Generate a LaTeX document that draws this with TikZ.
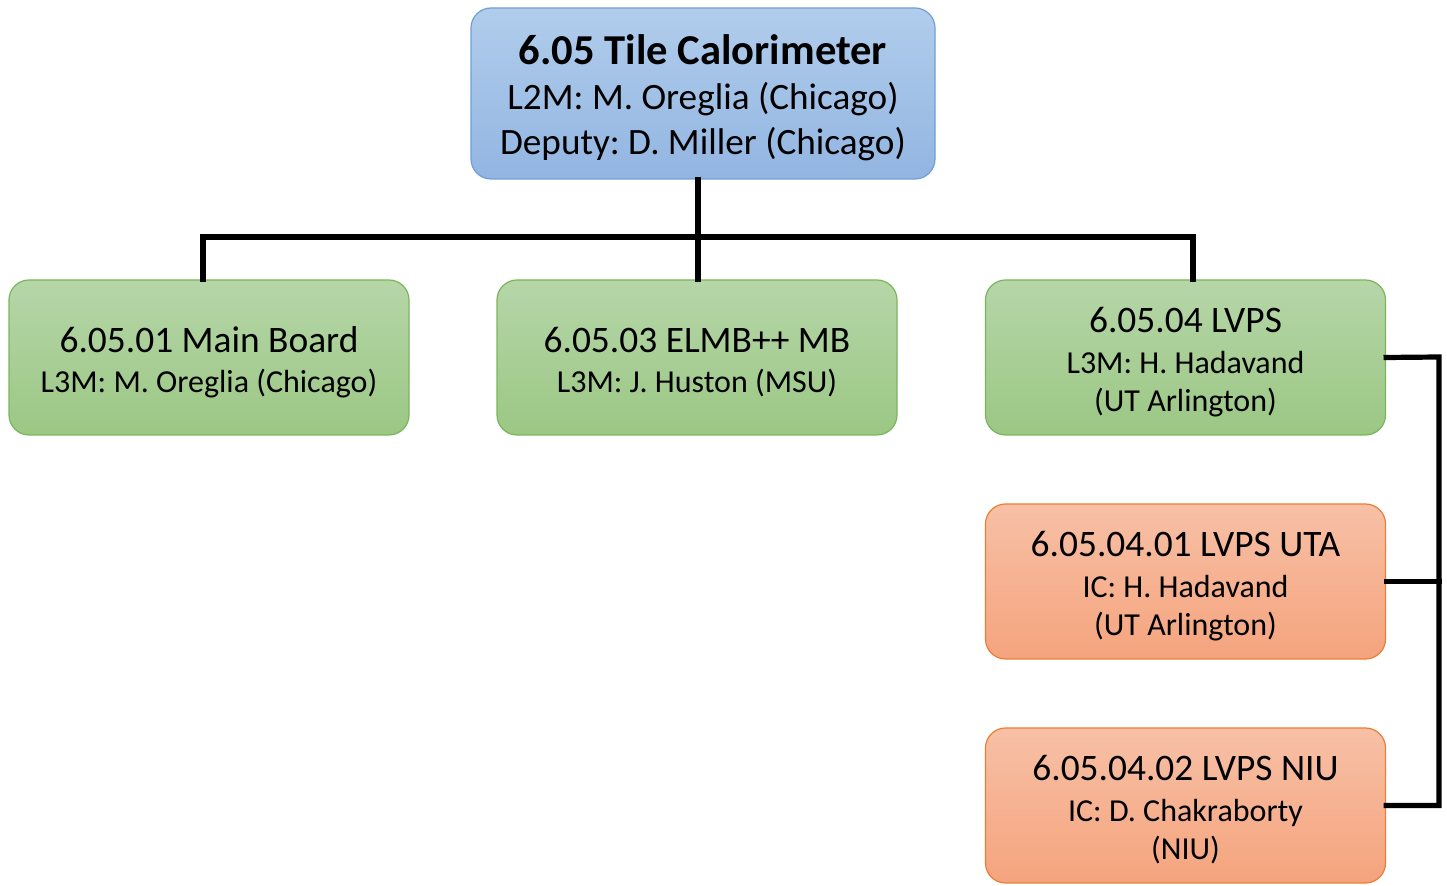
\documentclass[tikz,border=0pt]{standalone}
\usepackage{fontspec}
\setmainfont{Carlito}
\frenchspacing
\definecolor{bluetop}{HTML}{B1CDEC}
\definecolor{bluebot}{HTML}{92B5E1}
\definecolor{blueline}{HTML}{6E9FD6}
\definecolor{greentop}{HTML}{B6D6A8}
\definecolor{greenbot}{HTML}{9BC784}
\definecolor{greenline}{HTML}{7AB55C}
\definecolor{orangetop}{HTML}{F7C0A6}
\definecolor{orangebot}{HTML}{F5A47D}
\definecolor{orangeline}{HTML}{ED7D31}
\newcommand{\myBig}{\fontsize{18.7}{21}\selectfont}
\tikzset{
  box/.style={rectangle, rounded corners=10pt, minimum width=200pt, minimum height=77.5pt,
    inner sep=0pt, line width=0.6pt},
  gbox/.style={box, draw=greenline, top color=greentop, bottom color=greenbot},
  obox/.style={box, draw=orangeline, top color=orangetop, bottom color=orangebot},
  tbox/.style={box, draw=blueline, top color=bluetop, bottom color=bluebot,
    minimum width=232pt, minimum height=85.5pt},
  txt/.style={align=center, inner sep=0pt, font=\fontsize{16}{19}\selectfont\frenchspacing},
  ttxt/.style={txt, font=\fontsize{18.6}{22.5}\selectfont\frenchspacing},
  conn/.style={line width=2.6pt, line cap=rect}
}
\begin{document}
\begin{tikzpicture}[x=0.5pt, y=-0.5pt]
\useasboundingbox (0,0) rectangle (1447,886);
\coordinate (bus) at (698,237);
\coordinate (rbus) at (1439,357);
\node[tbox] (top) at (703,93.5) {};
\node[ttxt] (topt) at ([yshift=-2.2pt]top.center) {{\fontsize{21.3}{22.5}\selectfont\bfseries 6.05 Tile Calorimeter}\\[0pt]
  L2M: M. Oreglia (Chicago)\\
  Deputy: D. Miller (Chicago)};
\node[gbox] (b1) at (209,357.5) {};
\node[gbox] (b2) at (697,357.5) {};
\node[gbox] (b3) at (1185.5,357.5) {};
\node[obox] (o1) at (1185.5,581.5) {};
\node[obox] (o2) at (1185.5,805.5) {};
\node[txt] (b1t) at ([yshift=-2.5pt]b1.center) {{\myBig 6.05.01 Main Board}\\[1pt]L3M: M. Oreglia (Chicago)};
\node[txt] (b2t) at ([yshift=-2.5pt]b2.center) {{\myBig 6.05.03 ELMB++ MB}\\[1pt]L3M: J. Huston (MSU)};
\node[txt] (b3t) at ([yshift=-2.2pt]b3.center) {{\myBig 6.05.04 LVPS}\\[1.5pt]L3M: H. Hadavand\\(UT Arlington)};
\node[txt] (o1t) at ([yshift=-2.1pt]o1.center) {{\myBig 6.05.04.01 LVPS UTA}\\[1.5pt]IC: H. Hadavand\\(UT Arlington)};
\node[txt] (o2t) at ([yshift=-2.1pt]o2.center) {{\myBig 6.05.04.02 LVPS NIU}\\[1.5pt]IC: D. Chakraborty\\(NIU)};
\draw[conn] (top.south -| bus) -- (bus);
\draw[conn] (b1.north -| 203,0) |- (bus) -| (b3.north -| 1193,0);
\draw[conn] (bus) -- (b2.north -| bus);
\draw[conn] (b3.east) -- (rbus) |- (o2.east);
\draw[conn] (o1.east) -- (o1.east -| rbus);
\end{tikzpicture}
\end{document}
